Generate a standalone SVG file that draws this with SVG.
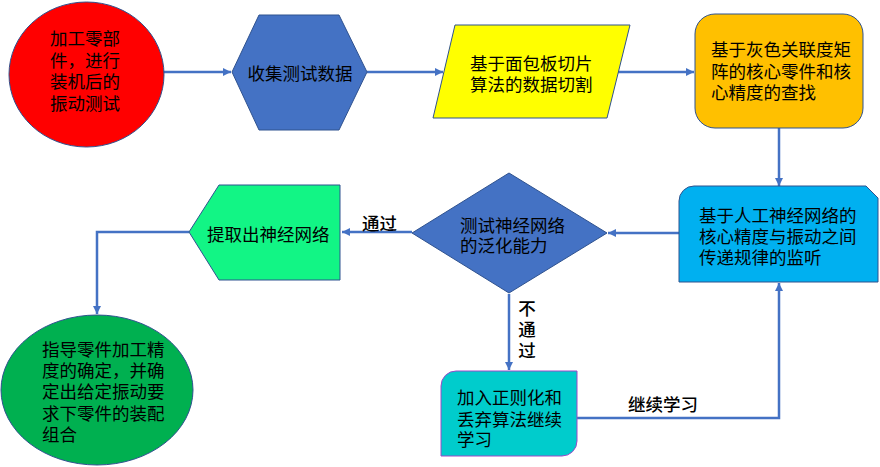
<svg xmlns="http://www.w3.org/2000/svg" width="880" height="467" viewBox="0 0 880 467">
<style>
.t{font-family:"Noto Sans CJK SC","Noto Sans",sans-serif;font-size:17.5px;fill:#000;dominant-baseline:central}
.c{text-anchor:middle}
.lb{font-weight:500}
.sh{stroke:#2F528F;stroke-width:1}
.ln{fill:none;stroke:#4472C4;stroke-width:2.5}
</style>
<defs>
<marker id="ah" markerUnits="userSpaceOnUse" viewBox="0 0 10 10" refX="10" refY="5" markerWidth="9" markerHeight="8" orient="auto">
<path d="M0,0 L10,5 L0,10 Z" fill="#4472C4"/>
</marker>
</defs>
<rect width="880" height="467" fill="#fff"/>
<g id="connectors">
<path class="ln" d="M163,72 H231" marker-end="url(#ah)"/>
<path class="ln" d="M367,72 H443" marker-end="url(#ah)"/>
<path class="ln" d="M618,72 H694" marker-end="url(#ah)"/>
<path class="ln" d="M779,128 V186" marker-end="url(#ah)"/>
<path class="ln" d="M679,233 H608" marker-end="url(#ah)"/>
<path class="ln" d="M412,232 H342" marker-end="url(#ah)"/>
<path class="ln" d="M189,232 H97 V314" marker-end="url(#ah)"/>
<path class="ln" d="M509,294 V370" marker-end="url(#ah)"/>
<path class="ln" d="M577,418 H779 V283" marker-end="url(#ah)"/>
<text class="t c lb" x="379.5" y="222">通过</text>
<text class="t c lb" x="527" y="307">不</text>
<text class="t c lb" x="527" y="328">通</text>
<text class="t c lb" x="527" y="349">过</text>
<text class="t lb" x="628" y="403">继续学习</text>
</g>
<g id="n1">
<ellipse class="sh" cx="86.5" cy="74.5" rx="77.5" ry="72.5" fill="#FF0000"/>
<text class="t" x="50" y="37.5">加工零部</text>
<text class="t" x="50" y="59">件，进行</text>
<text class="t" x="50" y="80.5">装机后的</text>
<text class="t" x="50" y="102">振动测试</text>
</g>
<g id="n2">
<polygon class="sh" points="232,72 259,15 339,15 367,72 339,130 259,130" fill="#4472C4"/>
<text class="t c" x="300" y="72">收集测试数据</text>
</g>
<g id="n3">
<polygon class="sh" points="455,25 630,25 607,118 433,118" fill="#FFFF00"/>
<text class="t" x="470" y="62">基于面包板切片</text>
<text class="t" x="470" y="83">算法的数据切割</text>
</g>
<g id="n4">
<rect class="sh" x="695" y="14" width="168" height="114" rx="20" fill="#FFC000"/>
<text class="t" x="711" y="48">基于灰色关联度矩</text>
<text class="t" x="711" y="70">阵的核心零件和核</text>
<text class="t" x="711" y="91">心精度的查找</text>
</g>
<g id="n5">
<path class="sh" d="M694,186 H866 L878,198 V282 H679 V201 A15,15 0 0 1 694,186 Z" fill="#00B0F0"/>
<text class="t" x="699" y="214.5">基于人工神经网络的</text>
<text class="t" x="699" y="235.5">核心精度与振动之间</text>
<text class="t" x="699" y="256">传递规律的监听</text>
</g>
<g id="n6">
<polygon class="sh" points="412,233 509,173 607,233 509,293" fill="#4472C4"/>
<text class="t" x="460" y="224">测试神经网络</text>
<text class="t" x="460" y="244">的泛化能力</text>
</g>
<g id="n7">
<polygon class="sh" points="189,232 219,185 340,185 340,280 219,280" fill="#12F585"/>
<text class="t" x="207" y="233">提取出神经网络</text>
</g>
<g id="n8">
<ellipse class="sh" cx="97" cy="390" rx="96" ry="75" fill="#00B050"/>
<text class="t" x="42" y="348">指导零件加工精</text>
<text class="t" x="42" y="369">度的确定，并确</text>
<text class="t" x="42" y="390.5">定出给定振动要</text>
<text class="t" x="42" y="412">求下零件的装配</text>
<text class="t" x="42" y="433">组合</text>
</g>
<g id="n9">
<path d="M441,456 V386 A15,15 0 0 1 456,371 H577 V441 A15,15 0 0 1 562,456 Z" fill="#00CCCC" stroke="#9E48C8" stroke-width="1"/>
<text class="t" x="457" y="396">加入正则化和</text>
<text class="t" x="457" y="418">丢弃算法继续</text>
<text class="t" x="457" y="438">学习</text>
</g>
</svg>
